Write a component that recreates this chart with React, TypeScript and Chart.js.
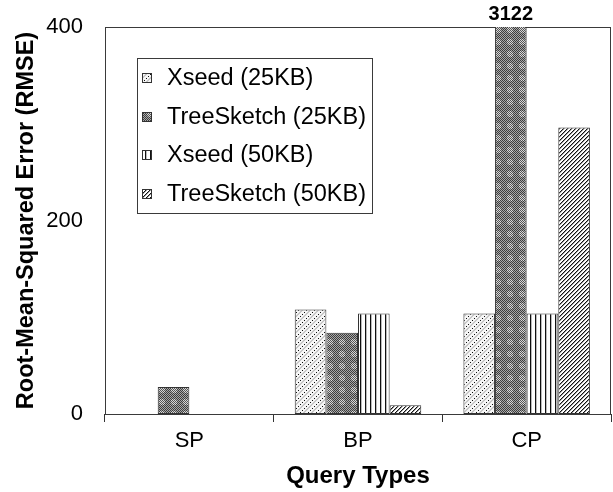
import React, { useEffect, useRef } from 'react';
import { Chart, registerables } from 'chart.js';

Chart.register(...registerables);

const categories = ['SP', 'BP', 'CP'];
const seriesNames = ['Xseed (25KB)', 'TreeSketch (25KB)', 'Xseed (50KB)', 'TreeSketch (50KB)'];
const xseed25: (number | null)[] = [null, 108, 104];
const treeSketch25: (number | null)[] = [28, 84, 3122];
const xseed50: (number | null)[] = [null, 104, 104];
const treeSketch50: (number | null)[] = [null, 9, 296];
const yMin = 0;
const yMax = 400;
const yStep = 200;
const xTitle = 'Query Types';
const yTitle = 'Root-Mean-Squared Error (RMSE)';

const FONT = '"Liberation Sans", Arial, Helvetica, sans-serif';

function makeTile(w: number, h: number, draw: (x: number, y: number) => string): HTMLCanvasElement {
  const c = document.createElement('canvas');
  c.width = w;
  c.height = h;
  const g = c.getContext('2d')!;
  for (let y = 0; y < h; y++) {
    for (let x = 0; x < w; x++) {
      g.fillStyle = draw(x, y);
      g.fillRect(x, y, 1, 1);
    }
  }
  return c;
}

function makePatterns(ctx: CanvasRenderingContext2D) {
  const dotted = makeTile(8, 8, (x, y) => {
    if ((x === 0 && y === 0) || (x === 4 && y === 4) || (x === 2 && y === 6) || (x === 6 && y === 2)) return '#111';
    if ((x + y) % 8 === 3 || (x + y) % 8 === 4) return '#c8c8c8';
    return '#f6f6f6';
  });
  const dark = makeTile(12, 12, (x, y) => {
    const dx = x - 5.5, dy = y - 5.5;
    const inBlob = dx * dx + dy * dy < 10;
    if ((x + y) % 2 === 0) return inBlob ? '#555' : '#3c3c3c';
    return inBlob ? '#d8d8d8' : '#a8a8a8';
  });
  const vert = makeTile(5, 1, (x) => (x === 0 ? '#111' : x === 1 ? '#bbb' : '#fff'));
  const diag = makeTile(4, 4, (x, y) => {
    const k = (x + y) % 4;
    if (k === 3) return '#111';
    if (k === 0) return '#9a9a9a';
    return '#fff';
  });
  return [dotted, dark, vert, diag].map((t) => ctx.createPattern(t, 'repeat')!);
}

export default function App() {
  const ref = useRef<HTMLCanvasElement | null>(null);

  useEffect(() => {
    document.body.style.margin = '0';
    const canvas = ref.current!;
    const ctx = canvas.getContext('2d')!;
    const patterns = makePatterns(ctx);
    const seriesData = [xseed25, treeSketch25, xseed50, treeSketch50];

    const framePlugin = {
      id: 'frame',
      beforeDatasetsDraw(chart: any) {
        const { ctx: c, chartArea: a } = chart;
        c.save();
        c.strokeStyle = '#3a3a3a';
        c.lineWidth = 1;
        c.strokeRect(Math.round(a.left) + 0.5, Math.round(a.top) + 0.5, Math.round(a.right - a.left) - 1, Math.round(a.bottom - a.top));
        c.restore();
      },
    };

    const overflowLabelPlugin = {
      id: 'overflowLabel',
      afterDatasetsDraw(chart: any) {
        const { ctx: c, chartArea: a } = chart;
        const max = chart.scales.y.max;
        c.save();
        c.font = `bold 20px ${FONT}`;
        c.fillStyle = '#000';
        c.textAlign = 'center';
        c.textBaseline = 'middle';
        chart.data.datasets.forEach((ds: any, di: number) => {
          const meta = chart.getDatasetMeta(di);
          ds.data.forEach((v: any, i: number) => {
            if (v != null && v > max) {
              const el = meta.data[i];
              c.fillText(String(v), el.x, a.top - 13);
            }
          });
        });
        c.restore();
      },
    };

    const legendPlugin = {
      id: 'boxLegend',
      afterDraw(chart: any) {
        const { ctx: c, chartArea: a } = chart;
        const bx = Math.round(a.left) + 32;
        const by = Math.round(a.top) + 31;
        const bw = 235;
        const bh = 155;
        c.save();
        c.fillStyle = '#fff';
        c.fillRect(bx, by, bw, bh);
        c.strokeStyle = '#3a3a3a';
        c.lineWidth = 1;
        c.strokeRect(bx + 0.5, by + 0.5, bw, bh);
        c.font = `23.5px ${FONT}`;
        c.textBaseline = 'middle';
        c.textAlign = 'left';
        seriesNames.forEach((name, i) => {
          const cy = by + 20 + i * 38.5;
          const sx = bx + 5;
          const sy = Math.round(cy - 5);
          c.fillStyle = patterns[i];
          c.fillRect(sx, sy, 10, 10);
          c.strokeStyle = '#333';
          c.strokeRect(sx + 0.5, sy + 0.5, 9, 9);
          c.fillStyle = '#000';
          c.fillText(name, bx + 30, cy + 1);
        });
        c.restore();
      },
    };

    const chart = new Chart(canvas, {
      type: 'bar',
      data: {
        labels: categories,
        datasets: seriesData.map((d, i) => ({
          label: seriesNames[i],
          data: d,
          backgroundColor: patterns[i],
          borderColor: '#333',
          borderWidth: 1,
          borderSkipped: false,
          categoryPercentage: 0.75,
          barPercentage: 1.0,
        })),
      },
      options: {
        responsive: false,
        animation: false,
        events: [],
        layout: { padding: { top: 27, right: 2, left: 0, bottom: 0 } },
        plugins: {
          legend: { display: false },
          tooltip: { enabled: false },
          title: { display: false },
        },
        scales: {
          x: {
            afterFit: (s: any) => {
              s.height = 78;
            },
            grid: { display: true, drawOnChartArea: false, drawTicks: true, tickLength: 8, color: '#333', offset: true },
            border: { display: false },
            ticks: { color: '#000', font: { family: FONT, size: 22 }, padding: 6, maxRotation: 0 },
            title: { display: true, text: xTitle, color: '#000', font: { family: FONT, size: 24, weight: 'bold' }, padding: { top: 0, bottom: 1 } },
          },
          y: {
            min: yMin,
            max: yMax,
            afterFit: (s: any) => {
              s.width = 105;
              s.paddingTop = 0;
              s.paddingBottom = 0;
            },
            grid: { display: false, drawTicks: false },
            border: { display: false },
            ticks: { stepSize: yStep, color: '#000', font: { family: FONT, size: 22 }, padding: 22 },
            title: { display: true, text: yTitle, color: '#000', font: { family: FONT, size: 23.5, weight: 'bold' }, padding: { top: 12, bottom: 0 } },
          },
        },
      },
      plugins: [framePlugin, overflowLabelPlugin, legendPlugin],
    } as any);

    return () => chart.destroy();
  }, []);

  return (
    <div style={{ position: 'absolute', left: 0, top: 0, width: 613, height: 492 }}>
      <canvas ref={ref} width={613} height={492} style={{ display: 'block' }} />
    </div>
  );
}
